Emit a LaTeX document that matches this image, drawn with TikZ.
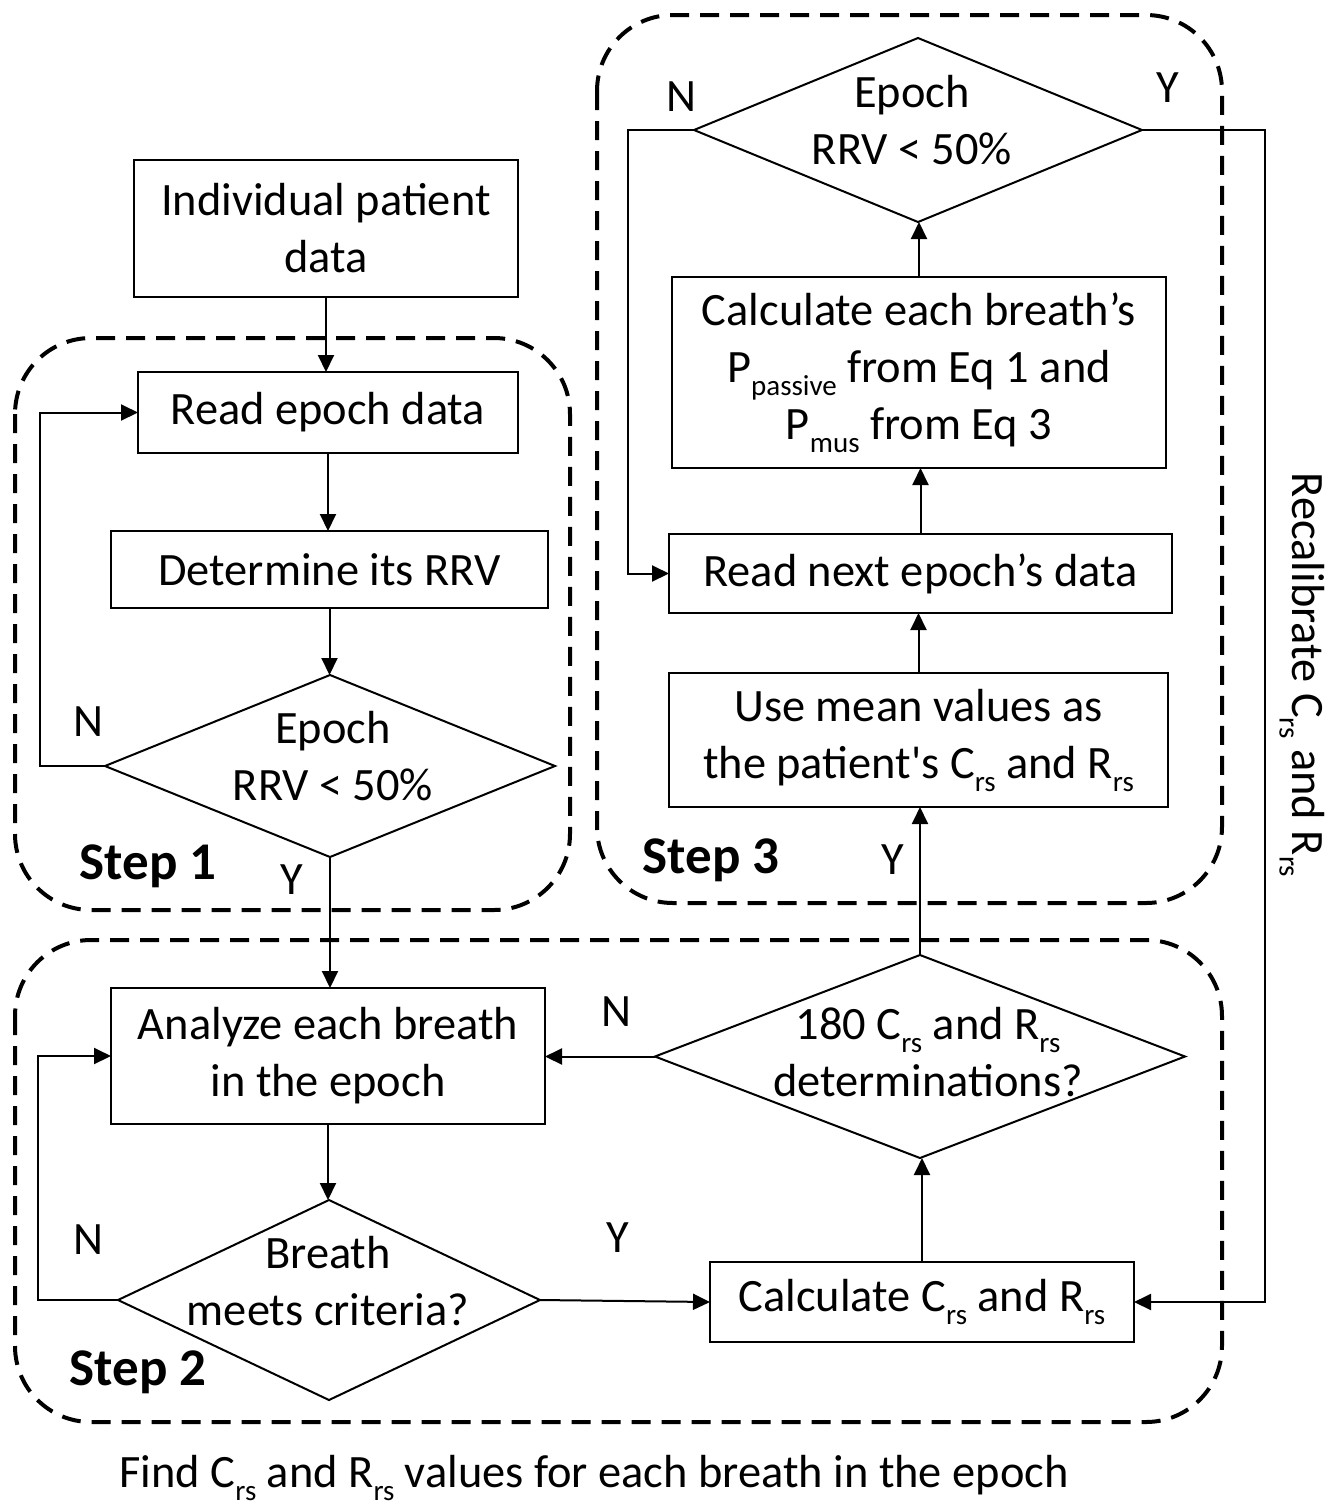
\documentclass[tikz,border=0pt]{standalone}
\usepackage{fontspec}
\setmainfont{Carlito}
\usetikzlibrary{arrows.meta,shapes.geometric}
\newcommand{\sbx}[1]{\raisebox{-0.28em}{\fontsize{14.5}{14.5}\selectfont #1}}
\begin{document}
\begin{tikzpicture}[x=0.5pt,y=-0.5pt,
 box/.style={draw, line width=1pt, inner sep=0pt, outer sep=0pt, align=center, font=\fontsize{23.2}{28.5}\selectfont},
 dia/.style={draw, diamond, line width=1pt, inner sep=0pt, outer sep=0pt},
 txt/.style={align=center, font=\fontsize{23.2}{28.5}\selectfont, inner sep=0pt},
 lab/.style={font=\fontsize{23.2}{23.2}\selectfont, inner sep=0pt},
 steplab/.style={font=\bfseries\fontsize{26.5}{26.5}\selectfont, inner sep=0pt},
 grp/.style={draw, dash pattern=on 9.5pt off 5.5pt, line width=2pt, rounded corners=38pt},
 arr/.style={-{Triangle[length=8.5pt,width=8pt]}, line width=1pt},
 ln/.style={line width=1pt}]
\useasboundingbox (0,0) rectangle (1338,1506);
\fill[white] (0,0) rectangle (1338,1506);

% group frames
\draw[grp] (15,338) rectangle (570,910);
\draw[grp] (597,15) rectangle (1222,903);
\draw[grp] (15,940) rectangle (1222,1422);

% boxes
\node[box, minimum width=192pt, minimum height=68.5pt] (ind) at (326,228.5) {Individual patient\\data};
\node[box, minimum width=190pt, minimum height=40.5pt] (read) at (328,412.5) {Read epoch data};
\node[box, minimum width=218.5pt, minimum height=38.5pt] (det) at (329.5,569.5) {Determine its RRV};
\node[box, minimum width=217pt, minimum height=68pt] (ana) at (328,1056) {Analyze each breath\\in the epoch};
\node[box, minimum width=212pt, minimum height=40pt] (calc) at (922,1302) {Calculate C\sbx{rs} and R\sbx{rs}};
\node[box, minimum width=249.5pt, minimum height=67pt] (mean) at (918.5,740) {Use mean values as\\the patient\textquotesingle s C\sbx{rs} and R\sbx{rs}};
\node[box, minimum width=251.5pt, minimum height=39.5pt] (next) at (920.5,573.5) {Read next epoch’s data};
\node[box, minimum width=247pt, minimum height=95.5pt] (each) at (919,372.5) {Calculate each breath’s\\P\sbx{passive} from Eq 1 and\\P\sbx{mus} from Eq 3};

% diamonds
\node[dia, minimum width=225pt, minimum height=91pt] (d1) at (330,766) {};
\node[txt] (d1t) at (333,756.5) {Epoch\\RRV {<} 50\%};
\node[dia, minimum width=211pt, minimum height=100pt] (d2) at (329,1300) {};
\node[txt] (d2t) at (328,1281) {Breath\\meets criteria?};
\node[dia, minimum width=265pt, minimum height=101.5pt] (d3) at (920,1056.5) {};
\node[txt] (d3t) at (928,1052) {180 C\sbx{rs} and R\sbx{rs}\\determinations?};
\node[dia, minimum width=224pt, minimum height=92pt] (d4) at (918,130) {};
\node[txt] (d4t) at (912,120) {Epoch\\RRV {<} 50\%};

% labels
\node[lab] (n1) at (88,722) {N};
\node[lab] (y1) at (292,880) {Y};
\node[lab] (n2) at (88,1240) {N};
\node[lab] (y2) at (618,1238) {Y};
\node[lab] (n3) at (616,1012) {N};
\node[lab] (y3) at (893,860) {Y};
\node[lab] (n4) at (681,97) {N};
\node[lab] (y4) at (1168,88) {Y};
\node[steplab] (s1) at (148,866) {Step 1};
\node[steplab] (s2) at (138,1372) {Step 2};
\node[steplab] (s3) at (711,860) {Step 3};
\node[lab, rotate=-90] (recal) at (1302,675) {Recalibrate C\sbx{rs} and R\sbx{rs}};
\node[lab] (cap) at (594,1478) {Find C\sbx{rs} and R\sbx{rs} values for each breath in the epoch};

% connectors
\draw[arr] (ind.south) -- (ind.south |- read.north);
\draw[arr] (read.south) -- (read.south |- det.north);
\draw[arr] (det.south) -- (det.south |- d1.north);
\draw[arr] (d1.south) -- (d1.south |- ana.north);
\draw[arr] (d1.west) -- (40,766) |- (read.west);
\draw[arr] (ana.south) -- (ana.south |- d2.north);
\draw[arr] (d2.west) -- (38,1300) |- (ana.west);
\draw[arr] (d2.east) -- (calc.west);
\draw[arr] (calc.north) -- (calc.north |- d3.south);
\draw[arr] (d3.west) -- (d3.west -| ana.east);
\draw[arr] (d3.north) -- (d3.north |- mean.south);
\draw[arr] (mean.north) -- (mean.north |- next.south);
\draw[arr] (next.north) -- (next.north |- each.south);
\draw[arr] (each.north) -- (each.north |- d4.south);
\draw[arr] (d4.west) -- (628,130) |- (next.west);
\draw[arr] (d4.east) -- (1265,130) |- (calc.east);
\end{tikzpicture}
\end{document}
